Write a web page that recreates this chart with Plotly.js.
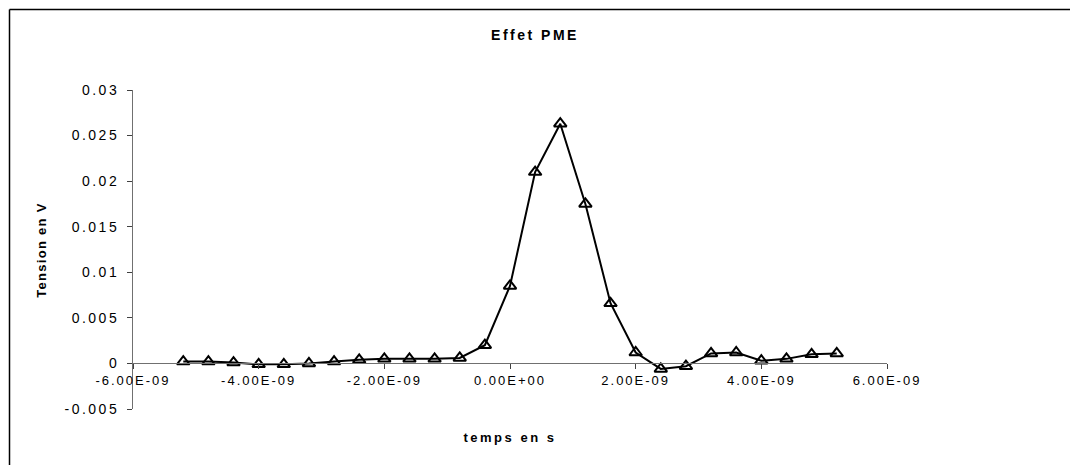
<!DOCTYPE html>
<html>
<head>
<meta charset="utf-8">
<script src="https://cdn.plot.ly/plotly-3.0.1.min.js"></script>
<style>
html,body{margin:0;padding:0;background:#fff;}
#chart{width:1070px;height:465px;}
#chart .xtick text{letter-spacing:2px;}
#chart .ytick text{letter-spacing:2.5px;}
#chart .gtitle{letter-spacing:2.5px;}
#chart .annotation[data-index="0"] .annotation-text{letter-spacing:2.5px;}
#chart .annotation[data-index="1"] .annotation-text{letter-spacing:1.3px;}
</style>
</head>
<body>
<div id="chart"></div>
<script>
// Time (s) and voltage (V)
const temps = [-5.2e-9, -4.8e-9, -4.4e-9, -4.0e-9, -3.6e-9, -3.2e-9, -2.8e-9, -2.4e-9, -2.0e-9,
  -1.6e-9, -1.2e-9, -0.8e-9, -0.4e-9, 0, 0.4e-9, 0.8e-9, 1.2e-9, 1.6e-9, 2.0e-9, 2.4e-9,
  2.8e-9, 3.2e-9, 3.6e-9, 4.0e-9, 4.4e-9, 4.8e-9, 5.2e-9];
const tension = [0.0002, 0.0002, 0.0001, -0.0001, -0.0001, 0.0000, 0.0002, 0.0004, 0.0005,
  0.0005, 0.0005, 0.0006, 0.0020, 0.0085, 0.0210, 0.0263, 0.0175, 0.0066, 0.0012, -0.0006,
  -0.0003, 0.0011, 0.0012, 0.0003, 0.0005, 0.0010, 0.0011];

const xTickVals = [-6e-9, -4e-9, -2e-9, 0, 2e-9, 4e-9, 6e-9];
const xTickText = ["-6.00E-09", "-4.00E-09", "-2.00E-09", "0.00E+00", "2.00E-09", "4.00E-09", "6.00E-09"];
const yTickVals = [-0.005, 0, 0.005, 0.01, 0.015, 0.02, 0.025, 0.03];
const yTickText = ["-0.005", "0", "0.005", "0.01", "0.015", "0.02", "0.025", "0.03"];

const xRange = [-6e-9, 6e-9];
const yRange = [-0.005, 0.03];

// plot area in pixels
const W = 1070, H = 465;
const L = 133, R = 183, T = 90, B = 56;
const pw = W - L - R, ph = H - T - B;
const px = p => (p - L) / pw;
const py = p => (H - B - p) / ph;

const font = "Liberation Sans, Arial, sans-serif";

const trace = {
  x: temps, y: tension, type: 'scatter', mode: 'lines+markers',
  line: {color: '#000', width: 2},
  marker: {symbol: 'triangle-up-open', size: 11, color: '#000', line: {color: '#000', width: 2}},
  hoverinfo: 'skip'
};

const layout = {
  width: W, height: H,
  margin: {l: L, r: R, t: T, b: B},
  paper_bgcolor: '#fff', plot_bgcolor: '#fff',
  showlegend: false,
  font: {family: font, color: '#000', size: 13},
  title: {text: '<b>Effet PME</b>', x: 0.5, xref: 'container', xanchor: 'center',
          y: 1 - 35 / H, yref: 'container', yanchor: 'middle',
          font: {family: font, size: 14, color: '#000'}},
  xaxis: {
    range: xRange, tickvals: xTickVals, ticktext: xTickText,
    anchor: 'free', position: (0 - yRange[0]) / (yRange[1] - yRange[0]),
    showline: true, linecolor: '#707070', linewidth: 1,
    ticks: 'outside', ticklen: 5, tickcolor: '#404040', tickwidth: 1,
    showgrid: false, zeroline: false,
    tickfont: {family: font, size: 13, color: '#000'}
  },
  yaxis: {
    range: yRange, tickvals: yTickVals, ticktext: yTickText,
    showline: true, linecolor: '#707070', linewidth: 1,
    ticks: 'outside', ticklen: 5, tickcolor: '#404040', tickwidth: 1,
    ticklabelstandoff: 5,
    showgrid: false, zeroline: false,
    tickfont: {family: font, size: 14, color: '#000'}
  },
  annotations: [
    {text: '<b>temps en s</b>', xref: 'paper', yref: 'paper', x: px(510), y: py(437),
     xanchor: 'center', yanchor: 'middle', showarrow: false,
     font: {family: font, size: 13, color: '#000'}},
    {text: '<b>Tension en V</b>', xref: 'paper', yref: 'paper', x: px(42), y: py(250),
     xanchor: 'center', yanchor: 'middle', showarrow: false, textangle: -90,
     font: {family: font, size: 13, color: '#000'}}
  ],
  shapes: [
    {type: 'line', xref: 'paper', yref: 'paper', x0: px(9.5), x1: px(9.5), y0: py(9.5), y1: py(470),
     line: {color: '#000', width: 1.5}},
    {type: 'line', xref: 'paper', yref: 'paper', x0: px(9.5), x1: px(1075), y0: py(9.5), y1: py(9.5),
     line: {color: '#000', width: 1.5}}
  ]
};

Plotly.newPlot('chart', [trace], layout, {displayModeBar: false, staticPlot: true});
</script>
</body>
</html>
